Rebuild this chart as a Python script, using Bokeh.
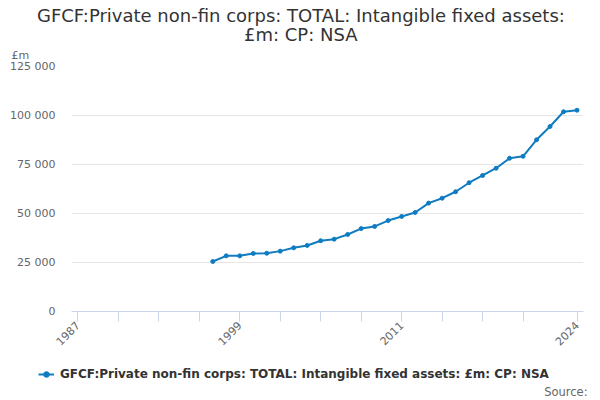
import math
from bokeh.plotting import figure
from bokeh.layouts import column
from bokeh.models import (ColumnDataSource, FixedTicker, Range1d, Title, Legend, LegendItem, Label)
from bokeh.embed import file_html
from bokeh.resources import INLINE

# ---- data ----
years = list(range(1997, 2025))
values = [25500, 28400, 28400, 29600, 29750, 30800, 32500, 33700, 36100, 36900,
          39300, 42300, 43400, 46400, 48500, 50500, 55300, 57800, 61100, 65700,
          69400, 73100, 78200, 79200, 87600, 94400, 101900, 102700]
series_name = "GFCF:Private non-fin corps: TOTAL: Intangible fixed assets: £m: CP: NSA"
title_lines = ["GFCF:Private non-fin corps: TOTAL: Intangible fixed assets:", "£m: CP: NSA"]
x_ticks = [1987, 1990, 1993, 1996, 1999, 2002, 2005, 2008, 2011, 2014, 2017, 2020, 2024]
x_tick_labels = {1987: "1987", 1999: "1999", 2011: "2011", 2024: "2024"}
y_ticks = [0, 25000, 50000, 75000, 100000, 125000]
y_tick_labels = ["0", "25 000", "50 000", "75 000", "100 000", "125 000"]
unit_label = "£m"
source_label = "Source:"

FONT = "DejaVu Sans"
BLUE = "#0f7cc2"
MAIN_H = 355
LEG_H = 45

src = ColumnDataSource(dict(x=years, y=values))

p = figure(width=600, height=MAIN_H, output_backend="svg", toolbar_location=None,
           x_range=Range1d(1986.53, 2024.48), y_range=Range1d(0, 125000),
           min_border_left=71, min_border_right=17, min_border_top=66, min_border_bottom=44)
p.outline_line_color = None
p.background_fill_color = "white"
p.border_fill_color = "white"

r = p.line("x", "y", source=src, line_color=BLUE, line_width=2)
m = p.scatter("x", "y", source=src, size=4, fill_color=BLUE, line_color=BLUE)

# x axis
xa = p.xaxis[0]
xa.ticker = FixedTicker(ticks=x_ticks)
xa.major_label_overrides = {t: x_tick_labels.get(t, "") for t in x_ticks}
xa.major_label_orientation = math.pi / 4
xa.axis_line_color = "#ccd6eb"
xa.major_tick_line_color = "#ccd6eb"
xa.major_tick_out = 10
xa.major_tick_in = 0
xa.minor_tick_line_color = None
xa.major_label_text_font = FONT
xa.major_label_text_font_size = "11px"
xa.major_label_text_color = "#666666"
xa.major_label_standoff = 2

# y axis
ya = p.yaxis[0]
ya.ticker = FixedTicker(ticks=y_ticks)
ya.major_label_overrides = {t: l for t, l in zip(y_ticks, y_tick_labels)}
ya.axis_line_color = None
ya.major_tick_line_color = None
ya.minor_tick_line_color = None
ya.major_tick_out = 0
ya.major_label_standoff = 16
ya.major_label_text_font = FONT
ya.major_label_text_font_size = "11px"
ya.major_label_text_color = "#666666"

p.xgrid.grid_line_color = None
p.ygrid.grid_line_color = "#e6e6e6"
p.ygrid.grid_line_width = 1

# above: unit label (closest to frame), then title lines
p.add_layout(Title(text=unit_label, align="left", offset=-60, standoff=10,
                   text_font=FONT, text_font_size="11px", text_color="#666666",
                   text_font_style="normal"), "above")
p.add_layout(Title(text=title_lines[1], align="left", offset=172.5, standoff=-6,
                   text_font=FONT, text_font_size="18px", text_color="#333333",
                   text_font_style="normal"), "above")
p.add_layout(Title(text=title_lines[0], align="left", offset=-34.5, standoff=-2,
                   text_font=FONT, text_font_size="18px", text_color="#333333",
                   text_font_style="normal"), "above")

# legend strip below the chart
lf = figure(width=600, height=LEG_H, output_backend="svg", toolbar_location=None,
            x_range=Range1d(0, 600), y_range=Range1d(0, LEG_H),
            min_border=0, x_axis_type=None, y_axis_type=None)
for fig in (p, lf):
    if "frame_align" in fig.properties():
        fig.frame_align = False
lf.outline_line_color = None
lf.xgrid.grid_line_color = None
lf.ygrid.grid_line_color = None
lr = lf.line([-1000, -999], [-1000, -1000], line_color=BLUE, line_width=2)
lm = lf.scatter([-1000], [-1000], size=4, fill_color=BLUE, line_color=BLUE)
legend = Legend(items=[LegendItem(label=series_name, renderers=[lr, lm])],
                location=(38, 19), padding=0, margin=0, spacing=0,
                glyph_width=16, glyph_height=14, label_height=14, label_standoff=6,
                label_text_font=FONT, label_text_font_size="12px",
                label_text_font_style="bold", label_text_color="#333333",
                background_fill_alpha=0, border_line_color=None)
lf.add_layout(legend, "center")
lf.add_layout(Label(x=587, y=LEG_H - 36, text=source_label, text_align="right",
                    text_baseline="alphabetic", text_font=FONT, text_font_size="11.5px",
                    text_color="#666666"))

layout = column(p, lf, spacing=0)
open("out.html", "w").write(file_html(layout, INLINE))
